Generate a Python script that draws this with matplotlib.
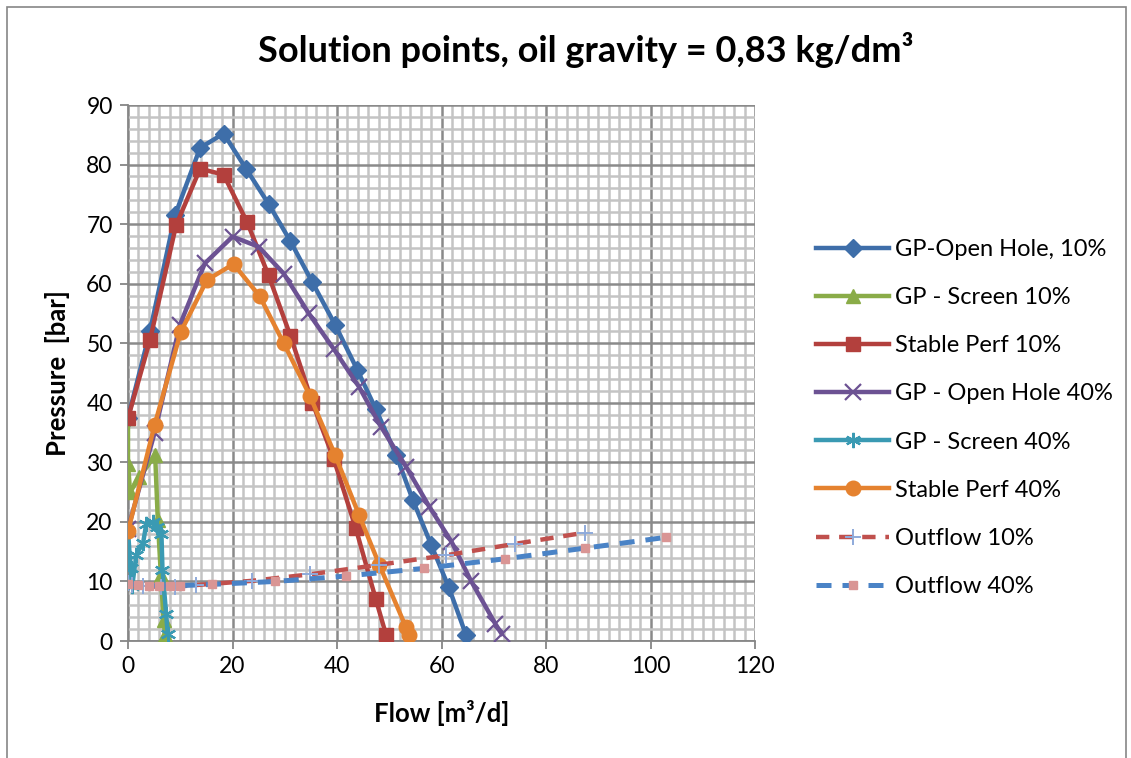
import matplotlib
matplotlib.use("Agg")
import matplotlib.pyplot as plt
from matplotlib.patches import Rectangle
from matplotlib.ticker import MultipleLocator

plt.rcParams['font.family'] = ['Lato', 'DejaVu Sans']

# ---- data ----
gp_oh10_x = [0, 4.2, 9.0, 13.8, 18.3, 22.6, 26.9, 31.1, 35.3, 39.7, 43.9, 47.4, 51.3, 54.5, 58.0, 61.4, 64.7]
gp_oh10_y = [37.5, 52.0, 71.5, 82.8, 85.2, 79.3, 73.4, 67.1, 60.2, 53.0, 45.5, 39.0, 31.3, 23.7, 16.2, 9.0, 1.0]

gp_sc10_x = [0, 0, 0.4, 2.2, 5.2, 5.7, 6.3, 6.8, 7.1]
gp_sc10_y = [37.5, 29.8, 25.0, 27.5, 31.2, 20.3, 11.0, 3.5, 1.0]

sp10_x = [0, 4.2, 9.2, 13.8, 18.3, 22.8, 26.9, 31.1, 35.3, 39.4, 43.6, 47.4, 49.4]
sp10_y = [37.4, 50.5, 69.8, 79.3, 78.3, 70.3, 61.4, 51.2, 40.0, 30.5, 18.9, 7.1, 1.0]

gp_oh40_x = [0, 5.1, 9.9, 14.7, 20.0, 25.0, 29.8, 34.6, 39.4, 44.2, 48.4, 53.2, 57.7, 61.9, 65.7, 70.3, 71.5]
gp_oh40_y = [18.8, 35.0, 53.0, 63.4, 67.9, 66.2, 61.7, 55.0, 49.0, 42.7, 36.0, 29.3, 22.5, 16.7, 10.0, 2.9, 1.2]

gp_sc40_x = [0, 0.5, 0.8, 1.6, 2.9, 3.5, 4.8, 5.6, 6.4, 6.6, 7.3, 7.6]
gp_sc40_y = [18.5, 12.2, 9.2, 14.5, 16.5, 19.7, 20.0, 19.2, 18.0, 12.0, 4.5, 1.2]

sp40_x = [0, 5.1, 10.1, 15.1, 20.2, 25.2, 29.8, 34.8, 39.6, 44.2, 48.1, 53.2, 53.8]
sp40_y = [18.4, 36.3, 51.9, 60.6, 63.3, 57.9, 50.0, 41.2, 31.3, 21.2, 12.8, 2.3, 1.0]

out10_x = [0, 0.8, 2.9, 6.4, 9.0, 13.1, 23.7, 34.9, 48.1, 60.9, 74.0, 87.5]
out10_y = [9.7, 9.4, 9.2, 9.1, 9.1, 9.4, 10.1, 11.2, 12.8, 14.4, 16.3, 18.2]

out40_x = [0, 2.0, 4.0, 6.0, 8.0, 10.0, 16.0, 28.2, 41.7, 56.7, 72.1, 87.5, 102.9]
out40_y = [9.6, 9.4, 9.3, 9.3, 9.3, 9.3, 9.5, 10.0, 10.9, 12.2, 13.8, 15.6, 17.4]

labels = ["GP-Open Hole, 10%", "GP - Screen 10%", "Stable Perf 10%", "GP - Open Hole 40%",
          "GP - Screen 40%", "Stable Perf 40%", "Outflow 10%", "Outflow 40%"]

# ---- figure ----
W, H = 1131, 758
fig = plt.figure(figsize=(W / 100, H / 100), dpi=100)
fig.patch.set_facecolor('white')
fig.patches.append(Rectangle((7 / W, -0.05), (1126 - 7) / W, (H - 7) / H + 0.05,
                             transform=fig.transFigure, fill=False,
                             edgecolor='#868686', linewidth=1.2))

ax = fig.add_axes([128 / W, 1 - 641 / H, (755 - 128) / W, (641 - 105) / H])
ax.set_xlim(0, 120)
ax.set_ylim(0, 90)
ax.xaxis.set_major_locator(MultipleLocator(20))
ax.xaxis.set_minor_locator(MultipleLocator(2))
ax.yaxis.set_major_locator(MultipleLocator(10))
ax.yaxis.set_minor_locator(MultipleLocator(2))
ax.grid(which='minor', color='#c4c4c4', linewidth=1.8, zorder=0)
ax.grid(which='major', color='#8a8a8a', linewidth=1.8, zorder=0)
ax.set_axisbelow(True)
for s in ['top', 'right']:
    ax.spines[s].set_visible(False)
for s in ['left', 'bottom']:
    ax.spines[s].set_color('#868686')
    ax.spines[s].set_linewidth(1.3)
ax.tick_params(which='major', length=6, width=1.3, color='#868686', labelsize=16.5, pad=5)
ax.tick_params(which='minor', length=0)

lw = 3.2
ax.plot(gp_oh10_x, gp_oh10_y, color='#3e6ea9', lw=lw, marker='D', ms=9.5, label=labels[0], zorder=3)
ax.plot(gp_sc10_x, gp_sc10_y, color='#8aac48', lw=lw, marker='^', ms=9.5, label=labels[1], zorder=3)
ax.plot(sp10_x, sp10_y, color='#b3403d', lw=lw, marker='s', ms=9.5, label=labels[2], zorder=3)
ax.plot(gp_oh40_x, gp_oh40_y, color='#6c5293', lw=lw, marker='x', ms=11, mew=1.6, label=labels[3], zorder=3)
ax.plot(gp_sc40_x, gp_sc40_y, color='#3a9ab3', lw=lw, marker=(6, 2, 0), ms=11, mew=1.6, label=labels[4], zorder=3)
ax.plot(sp40_x, sp40_y, color='#e5822f', lw=lw, marker='o', ms=10.5, label=labels[5], zorder=3)
ax.plot(out10_x, out10_y, color='#c0504d', lw=3.2, ls=(0, (3, 2.2)), marker='+', ms=11, mew=1.4,
        mec='#8eaadb', label=labels[6], zorder=3)
ax.plot(out40_x, out40_y, color='#4a83c6', lw=3.6, ls=(0, (3, 2.2)), marker='s', ms=6,
        mec='#d99594', mfc='#d99594', label=labels[7], zorder=3)

ax.set_xlabel('Flow [m³/d]', fontsize=18.5, fontweight='bold', labelpad=16)
ax.set_ylabel('Pressure  [bar]', fontsize=18.5, fontweight='bold', labelpad=12)
fig.text(586 / W, 1 - 50 / H, 'Solution points, oil gravity = 0,83 kg/dm³', ha='center', va='center',
         fontsize=26, fontweight='bold')

leg = ax.legend(loc='center left', bbox_to_anchor=(816 / W, 1 - 418 / H), bbox_transform=fig.transFigure,
                frameon=False, fontsize=17, handlelength=3.1, labelspacing=1.15, handletextpad=0.25,
                borderaxespad=0, borderpad=0)

fig.savefig('out.png', dpi=100)
